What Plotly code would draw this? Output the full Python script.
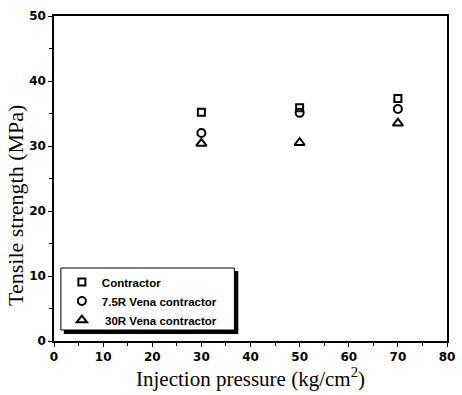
import plotly.graph_objects as go

pressure = [30, 50, 70]
contractor = [35.2, 35.9, 37.3]
vena_7_5r = [32.0, 35.1, 35.7]
vena_30r = [30.4, 30.5, 33.5]

series_names = ["Contractor", "7.5R Vena contractor", " 30R Vena contractor"]
symbols = ["square-open", "circle-open", "triangle-up-open"]
sizes = [7, 8, 9]

fig = go.Figure()
for name, vals, sym, sz in zip(series_names, [contractor, vena_7_5r, vena_30r], symbols, sizes):
    fig.add_trace(go.Scatter(
        x=pressure, y=vals, mode="markers", name=name,
        marker=dict(symbol=sym, size=sz, color="black", line=dict(width=2, color="black")),
    ))

axis_common = dict(
    showgrid=False, zeroline=False, showline=True, linecolor="black", linewidth=1.5,
    mirror=True, ticks="outside", ticklen=4, tickwidth=1.3, tickcolor="black",
    tickfont=dict(family="DejaVu Sans", size=12, color="black", weight="bold"),
    tickprefix="<b>", ticksuffix="</b>",
    minor=dict(ticks="outside", ticklen=3, tickcolor="black", tickwidth=1, dtick=5),
)

fig.update_xaxes(range=[0, 80], dtick=10, **axis_common,
                 title=dict(text="Injection pressure (kg/cm<sup>2</sup>)",
                            font=dict(family="Liberation Serif", size=21, color="black"),
                            standoff=8))
fig.update_yaxes(range=[0, 50], dtick=10, **axis_common)

fig.add_annotation(text="Tensile strength (MPa)", xref="paper", yref="paper",
                   x=-0.0998, y=0.418, xanchor="center", yanchor="middle",
                   textangle=-90, showarrow=False,
                   font=dict(family="Liberation Serif", size=22, color="black"))

# legend frame and drop shadow
fig.add_shape(type="rect", xref="paper", yref="paper",
              x0=0.025, x1=0.469, y0=0.0215, y1=0.2154,
              fillcolor="black", line=dict(width=0), layer="above")
fig.add_shape(type="rect", xref="paper", yref="paper",
              x0=0.0175, x1=0.459, y0=0.0338, y1=0.2246,
              fillcolor="white", line=dict(width=1, color="black"), layer="above")

fig.update_layout(
    width=462, height=395,
    margin=dict(l=54, r=7, t=16, b=54),
    paper_bgcolor="white", plot_bgcolor="white",
    showlegend=True,
    legend=dict(x=0.02, y=0.226, xanchor="left", yanchor="top",
                bgcolor="rgba(0,0,0,0)", borderwidth=0,
                font=dict(family="Liberation Sans", size=11.5, color="black", weight="bold"),
                tracegroupgap=0, itemsizing="trace", itemwidth=30),
)

fig.write_html("out.html")
